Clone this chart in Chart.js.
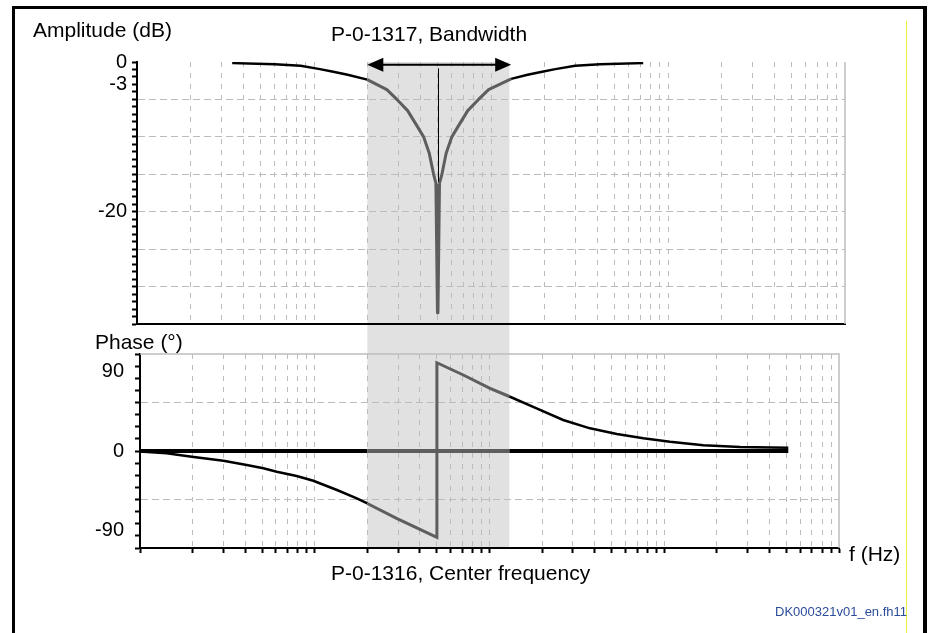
<!DOCTYPE html>
<html><head><meta charset="utf-8">
<script src="https://cdn.jsdelivr.net/npm/chart.js@4.4.1/dist/chart.umd.min.js"></script>
<style>
html,body{margin:0;padding:0;background:#fff;width:930px;height:633px;overflow:hidden;}
#wrap{position:relative;width:930px;height:633px;}
canvas{position:absolute;left:0;top:0;}
.t{position:absolute;font-family:"Liberation Sans",Arial,sans-serif;font-size:21px;line-height:21px;color:#000;white-space:nowrap;}
#frame{position:absolute;left:12px;top:6px;width:908px;height:700px;border-left:3px solid #000;border-top:3px solid #000;border-right:4px solid #000;}
#yellow{position:absolute;left:906px;top:21px;width:1px;height:612px;background:#f0f03c;}
</style></head>
<body><div id="wrap">
<div id="frame"></div>
<div id="yellow"></div>
<canvas id="cPhase" width="930" height="633"></canvas>
<canvas id="cAmp" width="930" height="633"></canvas>
<div class="t" style="left:33px;top:19px;">Amplitude (dB)</div>
<div class="t" style="left:331px;top:23px;">P-0-1317, Bandwidth</div>
<div class="t" style="left:95px;top:331px;">Phase (°)</div>
<div class="t" style="left:331px;top:562px;">P-0-1316, Center frequency</div>
<div class="t" style="left:849px;top:543px;">f (Hz)</div>
<div class="t" style="left:775px;top:605px;font-size:13px;line-height:13px;color:#2b4c9b;">DK000321v01_en.fh11</div>
</div>
<script>
// ---- data ----
const ampFreq = [3.45, 6.0, 8.4, 10.8, 12.85, 15.5, 20, 25.8, 29.4, 33.8, 38.1, 41.6, 44.8, 47.4, 49.0, 50, 51.0, 52.8, 55.8, 60.1, 65.6, 73.9, 85.0, 96.9, 130, 161, 194.5, 231, 299, 414, 724];
const ampDb   = [-0.15, -0.3, -0.5, -0.95, -1.3, -1.7, -2.35, -3.7, -5.0, -6.5, -8.5, -10.0, -12.2, -15.0, -16.3, -33.5, -16.3, -15.0, -12.2, -10.0, -8.5, -6.5, -5.0, -3.7, -2.25, -1.7, -1.3, -0.95, -0.5, -0.3, -0.15];

const phaseFreq = [1, 1.42, 1.98, 3.0, 4.08, 5.08, 6.06, 7.88, 9.81, 13.4, 17.4, 20, 29.4, 40, 50, 50, 70.8, 100.7, 130, 186, 264, 376, 535, 759, 1079, 1673, 2714, 5128];
const phaseDeg  = [-0.5, -2.6, -6.5, -11.0, -15.9, -19.6, -23.5, -28.4, -33.7, -44.2, -53.6, -59.5, -76.3, -88.9, -97.9, 100.1, 86.2, 71.1, 61.8, 48.4, 35.2, 25.7, 19.3, 14.4, 10.5, 6.6, 4.6, 3.8];

const zeroFreq = [1, 20, 130, 5128];
const zeroDeg  = [0, 0, 0, 0];

const band = [20, 130];          // P-0-1317 bandwidth edges
const centerFreq = 50;           // P-0-1316 center frequency
const arrowDb = -0.36;
const markerDb = [-0.85, -16.0];

const ampTickLabels = [0, -3, -20];
const phaseTickLabels = [90, 0, -90];
const ampGridValues = [-5, -10, -15, -20, -25, -30];
const phaseGridValues = [55, -55];

// ---- styling ----
const BLACK = '#000000', GRAY = '#5e5e5e', GRID = '#bcbcbc', SHADE = '#e1e1e1', EDGE = '#bdbdbd';
const FONT = {family: '"Liberation Sans", Arial, sans-serif', size: 20};
const TRANSP = 'rgba(0,0,0,0)';

const logTicks = [];
for (let e = 0; e < 4; e++) for (let m = 1; m < 10; m++) logTicks.push(m * Math.pow(10, e));
logTicks.push(10000);
const ampTicks = [];
for (let v = -35; v <= 0; v++) ampTicks.push(v);
const phaseTicks = [];
for (let k = -8; k <= 8; k++) phaseTicks.push(k * 13.75);
phaseTicks.push(90, -90);
phaseTicks.sort((a, b) => a - b);

function inBand(a, b) {
  const m = Math.sqrt(a * b);
  return m > band[0] * 0.999 && m < band[1] * 1.001;
}
function segColor(ctx) { return inBand(ctx.p0.parsed.x, ctx.p1.parsed.x) ? GRAY : BLACK; }
function pts(xs, ys) { return xs.map((x, i) => ({x: x, y: ys[i]})); }

const xGridColor = ctx => (ctx.tick && (ctx.tick.value <= 1 || ctx.tick.value >= 10000)) ? TRANSP : GRID;

// ---- amplitude chart ----
const ampPlugin = {
  id: 'ampPlugin',
  beforeDatasetsDraw(chart) {
    const {ctx, chartArea: a} = chart;
    ctx.save();
    ctx.strokeStyle = EDGE; ctx.lineWidth = 1.5;
    ctx.beginPath(); ctx.moveTo(a.right, a.top); ctx.lineTo(a.right, a.bottom); ctx.stroke();
    ctx.restore();
  },
  afterDatasetsDraw(chart) {
    const {ctx} = chart, xs = chart.scales.x, ys = chart.scales.y;
    ctx.save();
    // center marker
    const xc = Math.round(xs.getPixelForValue(centerFreq)) + 0.5;
    ctx.strokeStyle = BLACK; ctx.lineWidth = 1;
    ctx.beginPath(); ctx.moveTo(xc, ys.getPixelForValue(markerDb[0])); ctx.lineTo(xc, ys.getPixelForValue(markerDb[1])); ctx.stroke();
    // bandwidth arrow
    const xl = xs.getPixelForValue(band[0]), xr = xs.getPixelForValue(band[1]), ya = ys.getPixelForValue(arrowDb);
    const L = 16, H = 7;
    ctx.lineWidth = 2;
    ctx.beginPath(); ctx.moveTo(xl + L - 2, ya); ctx.lineTo(xr - L + 2, ya); ctx.stroke();
    ctx.fillStyle = BLACK;
    ctx.beginPath(); ctx.moveTo(xl, ya); ctx.lineTo(xl + L, ya - H); ctx.lineTo(xl + L, ya + H); ctx.closePath(); ctx.fill();
    ctx.beginPath(); ctx.moveTo(xr, ya); ctx.lineTo(xr - L, ya - H); ctx.lineTo(xr - L, ya + H); ctx.closePath(); ctx.fill();
    ctx.restore();
  }
};

const ampChart = new Chart(document.getElementById('cAmp'), {
  type: 'line',
  data: {datasets: [{
    data: pts(ampFreq, ampDb),
    borderColor: BLACK, borderWidth: 2.5, pointRadius: 0, tension: 0,
    borderJoinStyle: 'round',
    segment: {
      borderColor: segColor,
      borderWidth: ctx => (ctx.p0.parsed.y < -20 || ctx.p1.parsed.y < -20) ? 3.5 : (inBand(ctx.p0.parsed.x, ctx.p1.parsed.x) ? 3 : 2.5)
    }
  }]},
  options: {
    responsive: false, animation: false, devicePixelRatio: 1,
    layout: {padding: {left: 0, right: 930 - 845, top: 62, bottom: 633 - 324}},
    plugins: {legend: {display: false}, tooltip: {enabled: false}},
    scales: {
      x: {
        type: 'logarithmic', min: 1, max: 10000,
        afterBuildTicks: s => { s.ticks = logTicks.map(v => ({value: v})); },
        afterFit: s => { s.height = 0; },
        ticks: {display: false, autoSkip: false},
        grid: {drawTicks: false, color: xGridColor, lineWidth: 1},
        border: {display: true, color: BLACK, width: 2, dash: [5, 6]}
      },
      y: {
        min: -35, max: 0,
        afterBuildTicks: s => { s.ticks = ampTicks.map(v => ({value: v})); },
        afterFit: s => { s.width = 137; },
        ticks: {autoSkip: false, padding: 5, color: BLACK, font: FONT,
          callback: v => ampTickLabels.includes(v) ? String(v) : ''},
        grid: {color: ctx => (ctx.tick && ampGridValues.includes(ctx.tick.value)) ? GRID : TRANSP,
          tickColor: BLACK, tickLength: 5, tickWidth: 2, lineWidth: 1},
        border: {display: true, color: BLACK, width: 2, dash: [7, 4]}
      }
    }
  },
  plugins: [ampPlugin]
});

// ---- phase chart ----
const phasePlugin = {
  id: 'phasePlugin',
  beforeDraw(chart) {
    const {ctx, chartArea: a} = chart, xs = chart.scales.x;
    const xl = xs.getPixelForValue(band[0]), xr = xs.getPixelForValue(band[1]);
    const top = ampChart.chartArea.top;
    ctx.save(); ctx.fillStyle = SHADE; ctx.fillRect(xl, top, xr - xl, a.bottom - top); ctx.restore();
  },
  beforeDatasetsDraw(chart) {
    const {ctx, chartArea: a} = chart;
    ctx.save(); ctx.strokeStyle = EDGE; ctx.lineWidth = 1.5;
    ctx.beginPath(); ctx.moveTo(a.left, a.top); ctx.lineTo(a.right, a.top); ctx.lineTo(a.right, a.bottom); ctx.stroke();
    ctx.restore();
  }
};

new Chart(document.getElementById('cPhase'), {
  type: 'line',
  data: {datasets: [
    {data: pts(phaseFreq, phaseDeg), borderColor: BLACK, borderWidth: 2.5, pointRadius: 0, tension: 0,
     segment: {borderColor: segColor, borderWidth: ctx => inBand(ctx.p0.parsed.x, ctx.p1.parsed.x) ? 3 : 2.5}},
    {data: pts(zeroFreq, zeroDeg), borderColor: BLACK, borderWidth: 4, pointRadius: 0, tension: 0,
     segment: {borderColor: segColor}}
  ]},
  options: {
    responsive: false, animation: false, devicePixelRatio: 1,
    layout: {padding: {left: 0, right: 930 - 839, top: 354, bottom: 633 - 548}},
    plugins: {legend: {display: false}, tooltip: {enabled: false}},
    scales: {
      x: {
        type: 'logarithmic', min: 1, max: 10000,
        afterBuildTicks: s => { s.ticks = logTicks.map(v => ({value: v})); },
        afterFit: s => { s.height = 0; },
        ticks: {display: false, autoSkip: false},
        grid: {drawTicks: true, tickLength: 5, tickColor: BLACK, tickWidth: 2, color: xGridColor, lineWidth: 1},
        border: {display: true, color: BLACK, width: 2, dash: [5, 6]}
      },
      y: {
        min: -110, max: 110,
        afterBuildTicks: s => { s.ticks = phaseTicks.map(v => ({value: v})); },
        afterFit: s => { s.width = 140; },
        ticks: {autoSkip: false, padding: 11, color: BLACK, font: FONT,
          callback: v => phaseTickLabels.includes(v) ? String(v) : ''},
        grid: {color: ctx => (ctx.tick && phaseGridValues.includes(ctx.tick.value)) ? GRID : TRANSP,
          tickColor: ctx => (ctx.tick && (ctx.tick.value === 90 || ctx.tick.value === -90)) ? TRANSP : BLACK,
          tickLength: 5, tickWidth: 2, lineWidth: 1},
        border: {display: true, color: BLACK, width: 2, dash: [7, 4]}
      }
    }
  },
  plugins: [phasePlugin]
});
</script>
</body></html>
